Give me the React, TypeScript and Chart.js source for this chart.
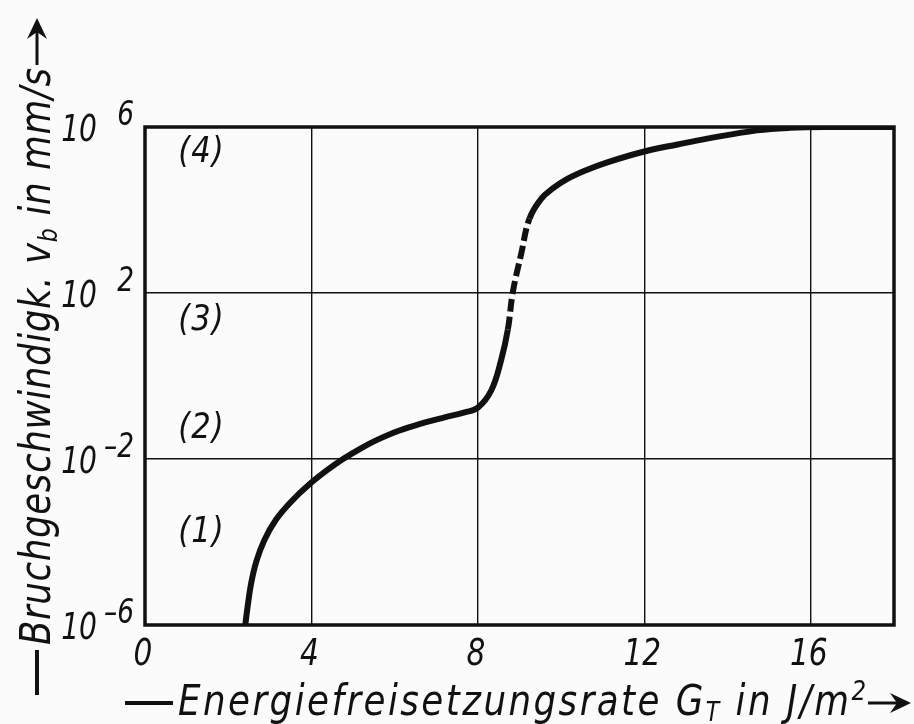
import React, { useEffect, useRef } from 'react';
import { Chart, registerables } from 'chart.js';

Chart.register(...registerables);

// ---- data ----
const energyRelease = [2.41, 2.46, 2.55, 2.68, 2.87, 3.15, 3.5, 3.95, 4.4, 4.75, 5.2, 5.59, 6.1, 6.71, 7.2, 7.68, 8.0, 8.32, 8.56, 8.72, 8.84, 9.04, 9.24, 9.52, 9.8, 10.15, 10.6, 11.11, 12.0, 12.8, 13.51, 14.71, 15.5, 16.5, 18];
const crackVelocity = [1e-6, 2.5e-6, 1e-5, 3.5e-5, 1.12e-4, 3.47e-4, 9.1e-4, 2.45e-3, 5.6e-3, 9.9e-3, 1.84e-2, 2.93e-2, 4.8e-2, 7.5e-2, 0.101, 0.133, 0.173, 0.447, 2.45, 13.2, 105, 870, 6200, 18600, 33000, 56000, 91000, 141000, 257000, 380000, 525000, 830000, 955000, 1e6, 1e6];
const dashedFrom = 8.72;
const dashedTo = 9.24;

const xTickValues = [0, 4, 8, 12, 16];
const yTickExponents = [-6, -2, 2, 6];
const yTickValues = yTickExponents.map((e) => Math.pow(10, e));

const regionLabels = ['(1)', '(2)', '(3)', '(4)'];
const regionVelocity = [1.9e-4, 0.063, 25, 2.8e5];
const regionEnergy = 1.32;

const xTitleMain = 'Energiefreisetzungsrate G';
const xTitleSub = 'T';
const xTitleMid = ' in J/m';
const xTitleSup = '2';
const yTitleMain = 'Bruchgeschwindigk. v';
const yTitleSub = 'b';
const yTitleEnd = ' in mm/s';

const INK = '#111111';
const FONT = "'DejaVu Sans', sans-serif";

type Seg = { t: string; size: number; dy?: number };

function runWidth(ctx: CanvasRenderingContext2D, segs: Seg[], sx: number) {
  let w = 0;
  let n = 0;
  for (const s of segs) {
    ctx.font = `oblique ${s.size}px ${FONT}`;
    for (const ch of s.t) {
      w += ctx.measureText(ch).width * sx;
      n += 1;
    }
  }
  return { w, n };
}

function drawRun(ctx: CanvasRenderingContext2D, segs: Seg[], x0: number, y0: number, sx: number, ls: number) {
  let cx = x0;
  for (const s of segs) {
    ctx.font = `oblique ${s.size}px ${FONT}`;
    for (const ch of s.t) {
      const w = ctx.measureText(ch).width * sx;
      ctx.save();
      ctx.translate(cx, y0 + (s.dy || 0));
      ctx.scale(sx, 1);
      ctx.fillText(ch, 0, 0);
      ctx.restore();
      cx += w + ls;
    }
  }
  return cx;
}

function drawFitted(ctx: CanvasRenderingContext2D, segs: Seg[], x0: number, y0: number, target: number, sx: number) {
  const { w, n } = runWidth(ctx, segs, sx);
  const ls = n > 1 ? (target - w) / (n - 1) : 0;
  drawRun(ctx, segs, x0, y0, sx, ls);
}

function drawArrow(ctx: CanvasRenderingContext2D, x0: number, x1: number, y: number) {
  ctx.beginPath();
  ctx.lineWidth = 3;
  ctx.moveTo(x0, y);
  ctx.lineTo(x1 - 8, y);
  ctx.stroke();
  ctx.beginPath();
  ctx.moveTo(x1, y);
  ctx.lineTo(x1 - 21, y - 10);
  ctx.lineTo(x1 - 14, y);
  ctx.lineTo(x1 - 21, y + 10);
  ctx.closePath();
  ctx.fill();
}

const decorPlugin = {
  id: 'decor',
  beforeDraw(chart: any) {
    const ctx = chart.ctx as CanvasRenderingContext2D;
    ctx.save();
    ctx.fillStyle = '#fbfbfb';
    ctx.fillRect(0, 0, chart.width, chart.height);
    ctx.restore();
  },
  afterDraw(chart: any) {
    const ctx = chart.ctx as CanvasRenderingContext2D;
    const a = chart.chartArea;
    const xs = chart.scales.x;
    const ys = chart.scales.y;
    ctx.save();
    ctx.strokeStyle = INK;
    ctx.fillStyle = INK;

    // frame
    ctx.lineWidth = 3.5;
    ctx.strokeRect(a.left, a.top, a.right - a.left, a.bottom - a.top);

    // x tick labels
    ctx.textBaseline = 'alphabetic';
    ctx.textAlign = 'left';
    for (const v of xTickValues) {
      const segs = [{ t: String(v), size: 37 }];
      const { w } = runWidth(ctx, segs, 0.8);
      drawRun(ctx, segs, xs.getPixelForValue(v) - w / 2 - 2, a.bottom + 40, 0.8, 0);
    }

    // y tick labels
    for (const e of yTickExponents) {
      const y = ys.getPixelForValue(Math.pow(10, e));
      const exp = [{ t: String(e).replace('-', '\u2013'), size: 33 }];
      const { w: ew } = runWidth(ctx, exp, 0.8);
      drawRun(ctx, exp, 134 - ew, y - 2, 0.8, 0);
      const base = [{ t: '10', size: 38 }];
      const { w: bw } = runWidth(ctx, base, 0.74);
      drawRun(ctx, base, 97 - bw, y + 14, 0.74, 0);
    }

    // region labels
    for (let i = 0; i < regionLabels.length; i++) {
      const segs = [{ t: regionLabels[i], size: 36 }];
      const { w } = runWidth(ctx, segs, 0.85);
      const px = xs.getPixelForValue(regionEnergy);
      const py = ys.getPixelForValue(regionVelocity[i]);
      drawRun(ctx, segs, px - w / 2, py + 12, 0.85, 1);
    }

    // x title
    ctx.lineWidth = 4;
    ctx.beginPath();
    ctx.moveTo(125, 703);
    ctx.lineTo(173, 703);
    ctx.stroke();
    drawFitted(
      ctx,
      [
        { t: xTitleMain, size: 42 },
        { t: xTitleSub, size: 26, dy: 6 },
        { t: xTitleMid, size: 42 },
        { t: xTitleSup, size: 27, dy: -15 },
      ],
      178,
      715,
      688,
      0.85
    );
    drawArrow(ctx, 868, 911, 703);

    // y title (rotated)
    ctx.save();
    ctx.translate(50, 645);
    ctx.rotate(-Math.PI / 2);
    ctx.lineWidth = 4;
    ctx.beginPath();
    ctx.moveTo(-50, -13);
    ctx.lineTo(-5, -13);
    ctx.stroke();
    drawFitted(
      ctx,
      [
        { t: yTitleMain, size: 42 },
        { t: yTitleSub, size: 26, dy: 7 },
        { t: yTitleEnd, size: 42 },
      ],
      0,
      0,
      577,
      0.85
    );
    drawArrow(ctx, 580, 627, -13);
    ctx.restore();

    ctx.restore();
  },
};

export default function App() {
  const ref = useRef<HTMLCanvasElement | null>(null);

  useEffect(() => {
    const prevMargin = document.body.style.margin;
    document.body.style.margin = '0';
    const canvas = ref.current;
    if (!canvas) return;
    const chart = new Chart(canvas, {
      type: 'line',
      data: {
        datasets: [
          {
            data: energyRelease.map((x, i) => ({ x, y: crackVelocity[i] })),
            borderColor: INK,
            borderWidth: 6,
            pointRadius: 0,
            fill: false,
            tension: 0.4,
            borderCapStyle: 'butt',
            segment: {
              borderDash: (c: any) =>
                c.p0.parsed.x >= dashedFrom - 1e-9 && c.p1.parsed.x <= dashedTo + 1e-9 ? [13, 5] : undefined,
            },
          } as any,
        ],
      },
      options: {
        animation: false,
        responsive: false,
        maintainAspectRatio: false,
        layout: { padding: { left: 145, right: 20, top: 127, bottom: 99 } },
        plugins: { legend: { display: false }, tooltip: { enabled: false } },
        scales: {
          x: {
            type: 'linear',
            min: 0,
            max: 18,
            afterBuildTicks: (s: any) => {
              s.ticks = xTickValues.map((v) => ({ value: v }));
            },
            afterFit: (s: any) => {
              s.height = 0;
            },
            ticks: { display: false },
            grid: { color: INK, lineWidth: 1.4, drawTicks: false },
            border: { display: false },
          },
          y: {
            type: 'logarithmic',
            min: 1e-6,
            max: 1e6,
            afterBuildTicks: (s: any) => {
              s.ticks = yTickValues.map((v) => ({ value: v }));
            },
            afterFit: (s: any) => {
              s.width = 0;
            },
            ticks: { display: false },
            grid: { color: INK, lineWidth: 1.4, drawTicks: false },
            border: { display: false },
          },
        },
      } as any,
      plugins: [decorPlugin],
    });
    return () => {
      chart.destroy();
      document.body.style.margin = prevMargin;
    };
  }, []);

  return (
    <div style={{ width: 914, height: 724 }}>
      <canvas ref={ref} width={914} height={724} style={{ display: 'block', width: 914, height: 724 }} />
    </div>
  );
}
